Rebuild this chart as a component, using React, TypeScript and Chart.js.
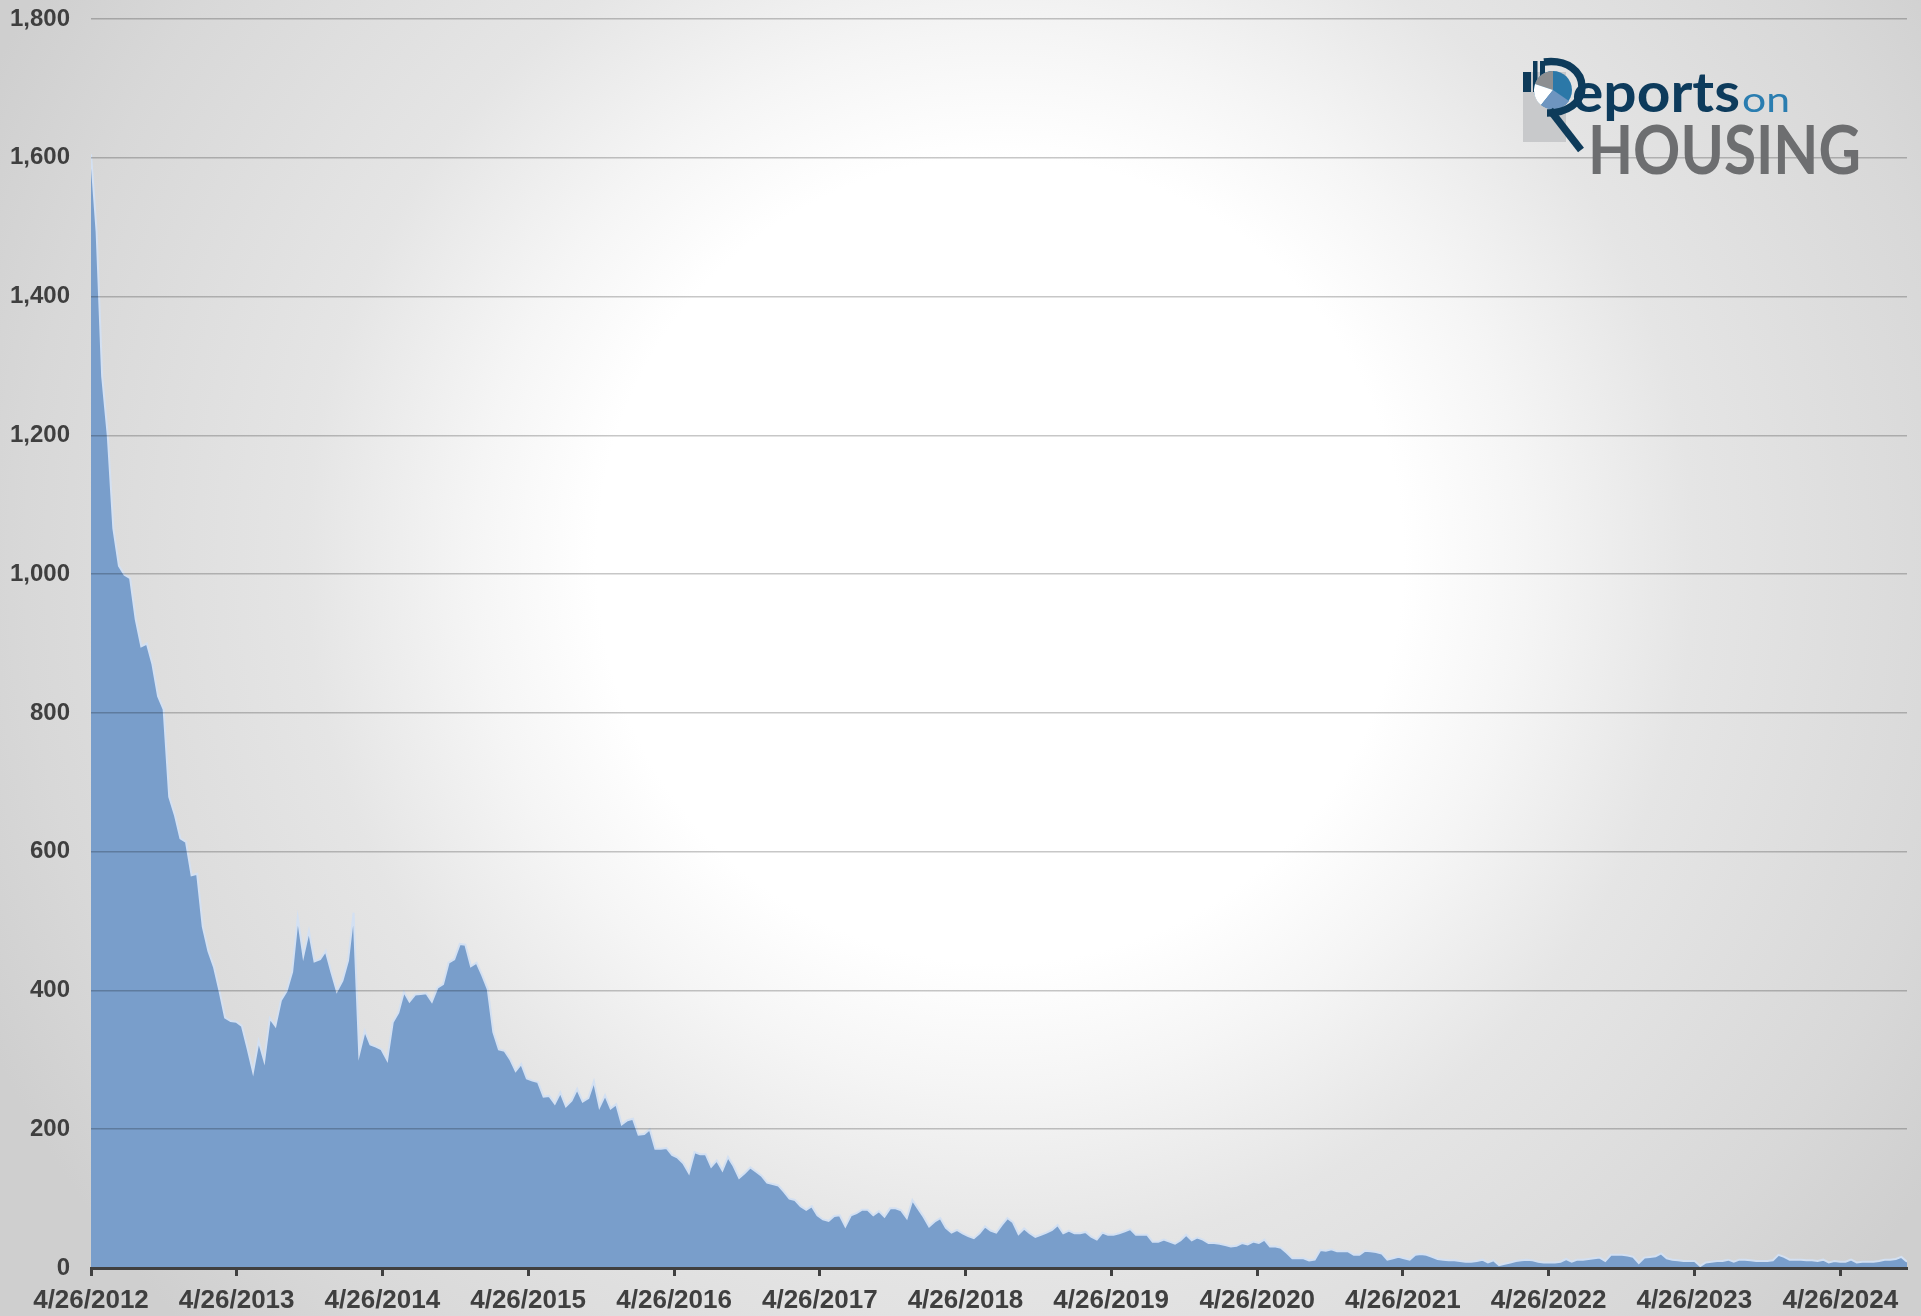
import React, { useEffect, useRef } from 'react';
import { Chart, registerables } from 'chart.js';

Chart.register(...registerables);

// ---- data ----
const START_DATE = '4/26/2012';
const STEP_DAYS = 14; // bi-weekly observations

const X_TICK_LABELS = [
  '4/26/2012', '4/26/2013', '4/26/2014', '4/26/2015', '4/26/2016', '4/26/2017', '4/26/2018',
  '4/26/2019', '4/26/2020', '4/26/2021', '4/26/2022', '4/26/2023', '4/26/2024',
];

const Y_MIN = 0;
const Y_MAX = 1800;
const Y_STEP = 200;

const VALUES_2012 = [
  1605, 1494, 1285, 1200, 1066, 1012, 999, 994, 935, 896, 900, 870, 824, 805, 679, 653, 619, 614,
  566, 568, 492, 457, 434, 399, 361, 356, 355,
];
const VALUES_2013_2014 = [
  349, 317, 283, 327, 299, 360, 349, 386, 399, 427, 505, 450, 486, 442, 445, 457, 427, 399, 414,
  443, 512, 309, 342, 322, 319, 315, 300, 354, 368, 398, 384, 394, 395, 396, 384, 404, 409, 440,
  445, 467, 466, 435, 440, 422, 402, 340, 315, 313, 301, 284, 294, 273, 270, 268, 247, 248, 237,
  253, 233, 241,
];
const VALUES_2015_2017 = [
  258, 240, 245, 269, 232, 249, 230, 236, 207, 213, 215, 192, 193, 200, 172, 172, 173, 163, 159,
  151, 137, 167, 164, 164, 146, 155, 141, 160, 147, 130, 137, 145, 139, 133, 123, 121, 119, 110,
  100, 98, 89, 84, 89, 76, 70, 68, 75, 76, 60, 76, 79, 84, 84, 76, 82, 74, 86, 86, 83, 72,
];
const VALUES_2017_2021 = [
  98, 86, 74, 60, 67, 72, 58, 51, 55, 50, 46, 43, 50, 60, 54, 51, 62, 72, 66, 49, 57, 50, 45, 48,
  51, 55, 62, 50, 54, 50, 50, 52, 45, 41, 51, 48, 48, 50, 53, 56, 48, 48, 48, 38, 38, 41, 38, 35,
  40, 48, 40, 44, 41, 36, 36, 35, 33, 31, 32, 36, 34, 38, 36, 41, 31, 31, 29, 22, 14, 14, 14, 11,
  12, 26, 25, 27, 24, 24, 24, 19, 19, 25, 24, 23, 21, 12, 14, 16, 14, 12,
];
const VALUES_2021_2024 = [
  19, 20, 19, 16, 13, 12, 11, 11, 10, 9, 9, 10, 12, 8, 11, 4, 6, 8, 10, 11, 12, 11, 9, 8, 8, 8, 9,
  13, 9, 12, 12, 13, 14, 15, 10, 19, 19, 19, 18, 16, 7, 15, 16, 17, 21, 14, 12, 11, 10, 10, 10, 3,
  8, 9, 10, 10, 12, 9, 12, 12, 11, 10, 10, 10, 11, 19, 16, 12, 12, 12, 11, 11, 10, 12, 8, 10, 9, 9,
  12, 8, 9, 9, 9, 10, 12, 12, 13, 16, 9,
];

const VALUES = [
  ...VALUES_2012,
  ...VALUES_2013_2014,
  ...VALUES_2015_2017,
  ...VALUES_2017_2021,
  ...VALUES_2021_2024,
];

// ---- helpers ----
function parseMDY(s: string): number {
  const [m, d, y] = s.split('/').map(Number);
  return Date.UTC(y, m - 1, d);
}
function daysFromStart(label: string): number {
  return Math.round((parseMDY(label) - parseMDY(START_DATE)) / 86400000);
}

const TICK_POSITIONS = X_TICK_LABELS.map(daysFromStart);

const W = 1921;
const H = 1316;

const backgroundPlugin = {
  id: 'radialBackground',
  beforeDraw(chart: any) {
    const { ctx, width, height } = chart;
    const g = ctx.createRadialGradient(1000, 560, 0, 1000, 560, 1120);
    g.addColorStop(0, '#ffffff');
    g.addColorStop(0.36, '#ffffff');
    g.addColorStop(0.47, '#f5f5f5');
    g.addColorStop(0.62, '#e5e5e5');
    g.addColorStop(0.87, '#d8d8d8');
    g.addColorStop(1, '#cfcfcf');
    ctx.save();
    ctx.fillStyle = g;
    ctx.fillRect(0, 0, width, height);
    ctx.restore();
  },
};

function Logo() {
  return (
    <svg
      width={400}
      height={160}
      viewBox="0 0 400 160"
      style={{ position: 'absolute', left: 1500, top: 40 }}
    >
      <rect x={23} y={32} width={43} height={70} fill="#c8c9cb" />
      <rect x={23} y={32} width={8} height={20} fill="#0e3b5a" />
      <rect x={33} y={21} width={4.5} height={31} fill="#0e3b5a" />
      <rect x={40} y={21} width={5} height={16} fill="#0e3b5a" />
      {/* pie inside lens */}
      <circle cx={53} cy={50} r={19} fill="#2b78a8" />
      <path d="M53,50 L53,31 A19,19 0 0 0 35,44 Z" fill="#8d8f91" />
      <path d="M53,50 L35,44 A19,19 0 0 0 41,65 Z" fill="#ffffff" />
      <path d="M53,50 L41,65 A19,19 0 0 0 69,61 Z" fill="#6e95c0" />
      {/* R bowl and leg */}
      <path
        d="M44,22 C68,19 82,32 82,47 C82,63 67,73 47,73"
        fill="none"
        stroke="#0e3b5a"
        strokeWidth={7.5}
      />
      <line x1={50} y1={70} x2={81} y2={110} stroke="#0e3b5a" strokeWidth={7.5} />
      <text
        x={72}
        y={71.5}
        fontFamily="Lato"
        fontWeight={700}
        fontSize={55}
        fill="#0d3b5c"
        textLength={168}
        lengthAdjust="spacingAndGlyphs"
      >
        eports
      </text>
      <text
        x={242}
        y={71.5}
        fontFamily="Lato"
        fontSize={34}
        fill="#2a7db0"
        textLength={48}
        lengthAdjust="spacingAndGlyphs"
      >
        on
      </text>
      <text
        x={88}
        y={134}
        fontFamily="Lato"
        fontWeight={700}
        fontSize={67}
        fill="#6d6e70"
        textLength={273}
        lengthAdjust="spacingAndGlyphs"
      >
        HOUSING
      </text>
    </svg>
  );
}

export default function App() {
  const canvasRef = useRef<HTMLCanvasElement | null>(null);

  useEffect(() => {
    const canvas = canvasRef.current;
    if (!canvas) return;
    const labelByPos: Record<number, string> = {};
    TICK_POSITIONS.forEach((p, i) => {
      labelByPos[p] = X_TICK_LABELS[i];
    });

    const chart = new Chart(canvas, {
      type: 'line',
      data: {
        datasets: [
          {
            data: VALUES.map((v, i) => ({ x: i * STEP_DAYS, y: v })),
            fill: 'origin',
            backgroundColor: '#799ecb',
            borderColor: '#d3e0f2',
            borderWidth: 2,
            pointRadius: 0,
            tension: 0,
          },
        ],
      },
      options: {
        animation: false,
        responsive: false,
        devicePixelRatio: 1,
        layout: { padding: { left: 0, right: 14, top: 19, bottom: 0 } },
        plugins: {
          legend: { display: false },
          tooltip: { enabled: false },
        },
        scales: {
          x: {
            type: 'linear',
            min: 0,
            max: (VALUES.length - 1) * STEP_DAYS,
            afterBuildTicks: (scale: any) => {
              scale.ticks = TICK_POSITIONS.map((v) => ({ value: v }));
            },
            afterFit: (scale: any) => {
              scale.height = 48;
            },
            ticks: {
              autoSkip: false,
              maxRotation: 0,
              minRotation: 0,
              padding: 9,
              color: '#3f3f3f',
              font: { family: 'Liberation Sans', weight: 'bold', size: 26 },
              callback: (v: any) => labelByPos[v] ?? '',
            },
            grid: {
              drawOnChartArea: false,
              drawTicks: true,
              tickLength: 8,
              tickWidth: 3,
              tickColor: '#404040',
            },
            border: { display: true, color: '#404040', width: 3, z: 2 },
          },
          y: {
            min: Y_MIN,
            max: Y_MAX,
            afterFit: (scale: any) => {
              scale.width = 91;
              scale.paddingTop = 0;
              scale.paddingBottom = 0;
            },
            ticks: {
              stepSize: Y_STEP,
              padding: 21,
              color: '#3f3f3f',
              font: { family: 'Liberation Sans', weight: 'bold', size: 24 },
              callback: (v: any) => Number(v).toLocaleString('en-US'),
            },
            grid: {
              drawTicks: false,
              color: 'rgba(0,0,0,0.22)',
              lineWidth: 1.5,
              z: 1,
            },
            border: { display: false },
          },
        },
      },
      plugins: [backgroundPlugin],
    });
    return () => chart.destroy();
  }, []);

  return (
    <div style={{ position: 'fixed', left: 0, top: 0, width: W, height: H, overflow: 'hidden' }}>
      <canvas ref={canvasRef} width={W} height={H} style={{ width: W, height: H, display: 'block' }} />
      <Logo />
    </div>
  );
}
